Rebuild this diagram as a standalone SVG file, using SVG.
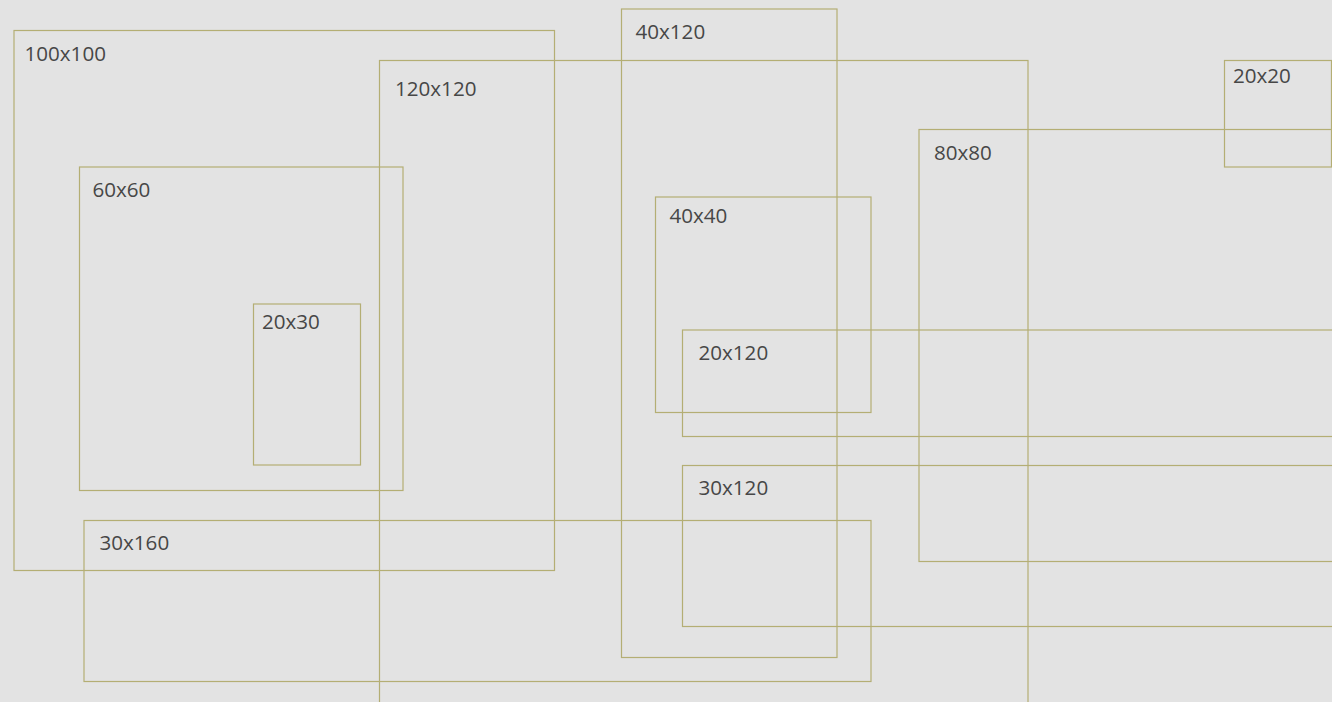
<svg xmlns="http://www.w3.org/2000/svg" width="1332" height="702" viewBox="0 0 1332 702">
<style>
.box{fill:none;stroke:#b4ae74;stroke-width:1.2}
.lbl{font-family:"Open Sans","Liberation Sans",sans-serif;font-size:20.6px;fill:#474747}
</style>
<rect x="0" y="0" width="1332" height="702" fill="#e3e3e3"/>
<g id="n100x100"><rect class="box" x="14" y="30.5" width="540.5" height="540"/><text class="lbl" x="24.5" y="60.5">100x100</text></g>
<g id="n120x120"><rect class="box" x="379.5" y="60.5" width="648.5" height="660"/><text class="lbl" x="395" y="95.5">120x120</text></g>
<g id="n60x60"><rect class="box" x="79.5" y="167" width="323.5" height="323.5"/><text class="lbl" x="92.5" y="197">60x60</text></g>
<g id="n20x30"><rect class="box" x="253.5" y="304" width="107" height="161"/><text class="lbl" x="262" y="328.5">20x30</text></g>
<g id="n30x160"><rect class="box" x="84" y="520.5" width="787" height="161"/><text class="lbl" x="99.5" y="549.5">30x160</text></g>
<g id="n40x120"><rect class="box" x="621.5" y="9" width="215.5" height="648.5"/><text class="lbl" x="635.5" y="39">40x120</text></g>
<g id="n40x40"><rect class="box" x="655.5" y="197" width="215.5" height="215.5"/><text class="lbl" x="669.5" y="223">40x40</text></g>
<g id="n20x120"><rect class="box" x="682.5" y="330" width="660" height="106.5"/><text class="lbl" x="698.5" y="360">20x120</text></g>
<g id="n30x120"><rect class="box" x="682.5" y="465.5" width="660" height="161"/><text class="lbl" x="698.5" y="494.5">30x120</text></g>
<g id="n80x80"><rect class="box" x="919" y="129.5" width="440" height="432"/><text class="lbl" x="934" y="160">80x80</text></g>
<g id="n20x20"><rect class="box" x="1224.5" y="60.5" width="107" height="106.5"/><text class="lbl" x="1233" y="82.5">20x20</text></g>
<g id="connectors"></g>
</svg>
